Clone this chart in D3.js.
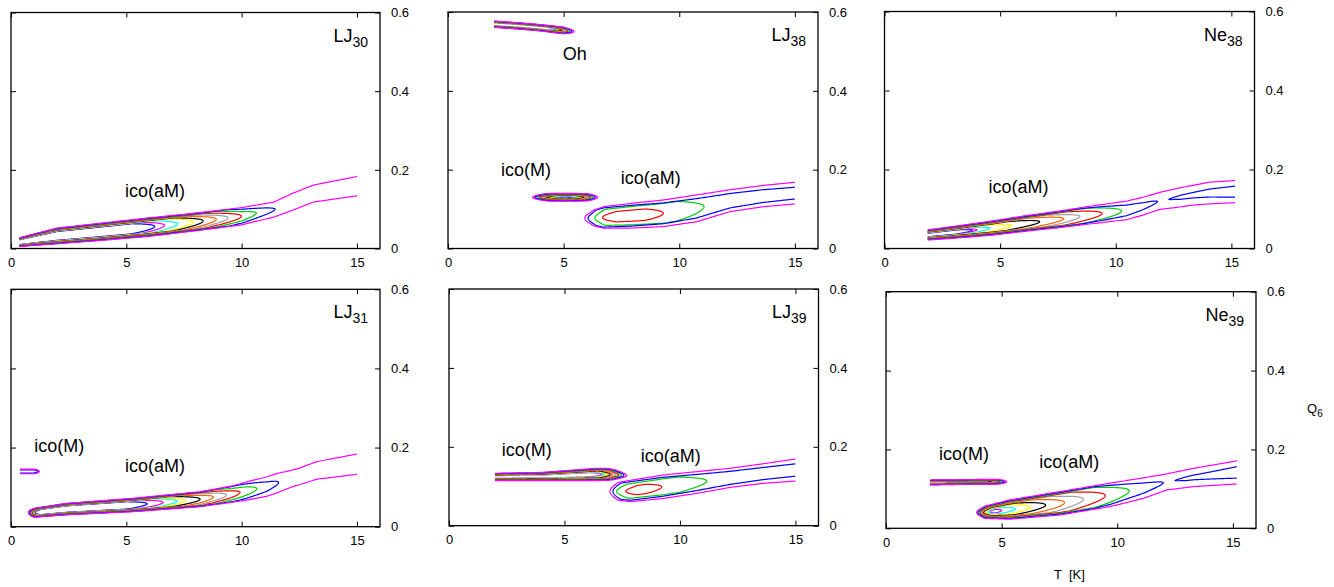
<!DOCTYPE html>
<html><head><meta charset="utf-8">
<script src="https://cdn.jsdelivr.net/npm/d3@7"></script>
<style>body{margin:0;background:#fff}svg{display:block}text{font-family:"Liberation Sans",Arial,Helvetica,sans-serif}</style>
</head><body>
<svg id="c" width="1334" height="587"></svg>
<script>
// ---------- data ----------
const levelColors = ['#ff00ff','#0000ff','#00d000','#ff0000','#a0a0a0','#ff6000','#000000','#ffff00','#00ffff'];
const xTicks = [0, 5, 10, 15];
const yTicks = [0, 0.2, 0.4, 0.6];
const yTickLabels = ['0', '0.2', '0.4', '0.6'];
const panelTitles = [['LJ','30'],['LJ','38'],['Ne','38'],['LJ','31'],['LJ','39'],['Ne','39']];
// level: [colorIndex, closedLeftT|null, closedRightT|null, scaleStart, scaleEnd, roundLeft, roundRight]

// LJ30 ico(aM)
const lj30aM_T   = [0.36, 1.0, 2.0, 4.0, 6.0, 8.0, 10.0, 11.4, 12.2, 13.1, 15.0];
const lj30aM_top = [0.027, 0.037, 0.052, 0.065, 0.078, 0.090, 0.104, 0.118, 0.140, 0.161, 0.183];
const lj30aM_bot = [0.005, 0.008, 0.012, 0.021, 0.031, 0.045, 0.060, 0.080, 0.097, 0.118, 0.134];
const lj30aM_lev = [[0,null,null,1,1,0,0],[1,null,11.45,.95,.95,0,2.0],[2,null,10.64,.9,.9,0,1.8],[3,null,9.99,.85,.85,0,1.6],
  [4,null,9.41,.8,.8,0,1.5],[5,null,8.9,.76,.76,0,1.4],[6,null,8.33,.72,.72,0,1.3],[7,null,7.9,.68,.68,0,1.2],
  [8,null,7.23,.64,.64,0,1.1],[0,null,6.66,.6,.6,0,1.0],[1,null,6.23,.56,.56,0,1.0]];
const lj30Labels = [['ico(aM)', 4.94, 0.132]];

// LJ38 Oh
const lj38Oh_T   = [2.0, 3.0, 4.0, 4.8, 5.6];
const lj38Oh_top = [0.577, 0.573, 0.568, 0.563, 0.558];
const lj38Oh_bot = [0.561, 0.557, 0.552, 0.546, 0.541];
const lj38Oh_lev = [[0,null,5.45,1,1,0,.45],[1,null,5.36,.93,.93,0,.45],[2,null,5.27,.86,.86,0,.45],[3,null,5.18,.8,.8,0,.4],
  [4,null,5.09,.74,.74,0,.4],[5,null,5.0,.68,.68,0,.4],[6,null,4.91,.62,.62,0,.4],[7,null,4.82,.56,.56,0,.4],
  [8,null,4.73,.5,.5,0,.4],[0,null,4.64,.45,.45,0,.4]];
// LJ38 ico(M)
const lj38M_T   = [3.6, 5.0, 6.5];
const lj38M_top = [0.139, 0.140, 0.139];
const lj38M_bot = [0.121, 0.120, 0.121];
const lj38M_lev = [[0,3.66,6.47,1,1,.6,.45],[1,3.76,6.37,.9,.9,.6,.45],[2,3.86,6.27,.82,.82,.6,.45],[3,3.96,6.17,.74,.74,.6,.45],
  [4,4.06,6.07,.66,.66,.6,.45],[5,4.16,5.97,.58,.58,.6,.45],[6,4.26,5.87,.5,.5,.6,.45],[7,4.36,5.77,.42,.42,.6,.45],
  [8,4.46,5.67,.34,.34,.6,.45],[0,4.56,5.57,.27,.27,.5,.4],[1,4.66,5.47,.2,.2,.4,.35]];
// LJ38 ico(aM)
const lj38aM_T   = [5.9, 6.14, 6.72, 8.0, 9.31, 10.75, 12.2, 13.63, 15.0];
const lj38aM_top = [0.094, 0.094, 0.106, 0.115, 0.123, 0.136, 0.149, 0.160, 0.168];
const lj38aM_bot = [0.060, 0.060, 0.0513, 0.052, 0.0555, 0.068, 0.0936, 0.106, 0.113];
const lj38aM_lev = [[0,5.92,null,1,1,.35,0],[1,6.06,null,.92,.54,.35,0],[2,6.35,11.07,.74,.74,.45,1.2],[3,6.68,9.31,.45,.45,.6,.8]];
const lj38Labels = [['Oh', 4.96, 0.479], ['ico(M)', 2.29, 0.183], ['ico(aM)', 7.47, 0.163]];

// Ne38 ico(aM)
const ne38aM_T   = [1.87, 3.0, 4.69, 6.0, 7.58, 9.0, 10.47, 11.2, 11.9, 12.63, 13.35, 14.07, 15.16];
const ne38aM_top = [0.047, 0.056, 0.070, 0.082, 0.095, 0.108, 0.120, 0.130, 0.142, 0.152, 0.160, 0.168, 0.172];
const ne38aM_bot = [0.0215, 0.026, 0.034, 0.043, 0.053, 0.063, 0.073, 0.085, 0.099, 0.104, 0.110, 0.113, 0.116];
const ne38aM_lev = [[0,null,null,1,1,0,0],[1,null,11.8,.92,.92,0,3.5],[1,12.3,null,.15,.5,.5,0],[2,null,10.25,.85,.85,0,1.6],
  [3,null,9.41,.78,.78,0,1.6],[4,null,8.45,.71,.71,0,1.5],[5,null,7.75,.64,.64,0,1.5],[6,null,6.71,.58,.58,0,1.4],
  [7,null,5.49,.52,.52,0,1.2],[8,null,4.55,.46,.46,0,1.0],[0,null,4.0,.4,.4,0,.8],[1,null,3.8,.35,.35,0,.7]];
const ne38Labels = [['ico(aM)', 4.5, 0.14]];

// LJ31 ico(M)
const lj31M_T   = [0.39, 1.3];
const lj31M_top = [0.1456, 0.1456];
const lj31M_bot = [0.1338, 0.1338];
const lj31M_lev = [[0,null,1.23,1,1,0,.2],[1,null,1.17,.7,.7,0,.2]];
// LJ31 ico(aM)
const lj31aM_T   = [0.7, 1.0, 2.4, 5.3, 8.2, 9.6, 10.2, 11.1, 11.5, 12.2, 12.5, 13.25, 15.0];
const lj31aM_top = [0.047, 0.0465, 0.059, 0.0718, 0.0884, 0.103, 0.113, 0.126, 0.134, 0.143, 0.148, 0.1643, 0.1837];
const lj31aM_bot = [0.024, 0.0238, 0.030, 0.0379, 0.0506, 0.062, 0.067, 0.077, 0.085, 0.101, 0.106, 0.120, 0.1324];
const lj31aM_lev = [[0,.75,null,1,1,.25,0],[1,.78,11.6,.95,.95,.25,2.0],[2,.81,10.66,.9,.9,.25,1.8],[3,.84,9.93,.85,.85,.25,1.6],
  [4,.87,9.35,.8,.8,.25,1.5],[5,.9,8.78,.76,.76,.25,1.4],[6,.93,8.2,.72,.72,.25,1.3],[7,.96,7.55,.68,.68,.25,1.2],
  [8,.99,7.2,.64,.64,.25,1.1],[0,1.02,6.6,.6,.6,.25,1.0],[1,1.05,5.9,.56,.56,.25,.9]];
const lj31Labels = [['ico(M)', 1.01, 0.19], ['ico(aM)', 4.94, 0.139]];

// LJ39 ico(M)
const lj39M_T   = [1.99, 4.0, 6.4, 6.9, 7.26, 7.8];
const lj39M_top = [0.1328, 0.135, 0.1455, 0.145, 0.141, 0.136];
const lj39M_bot = [0.1141, 0.1141, 0.1141, 0.115, 0.1176, 0.118];
const lj39M_lev = [[0,null,7.7,1,1,0,.5],[1,null,7.58,.92,.92,0,.5],[2,null,7.46,.85,.85,0,.5],[3,null,7.34,.78,.78,0,.5],
  [4,null,7.22,.71,.71,0,.5],[5,null,7.1,.64,.64,0,.5],[6,null,6.98,.57,.57,0,.5],[7,null,6.86,.5,.5,0,.5],
  [8,null,6.74,.43,.43,0,.5],[0,null,6.62,.36,.36,0,.5]];
// LJ39 ico(aM)
const lj39aM_T   = [6.95, 7.26, 7.84, 9.28, 10.73, 12.17, 13.6, 15.0];
const lj39aM_top = [0.106, 0.109, 0.115, 0.1285, 0.137, 0.1455, 0.157, 0.169];
const lj39aM_bot = [0.068, 0.0651, 0.061, 0.069, 0.082, 0.097, 0.1074, 0.1133];
const lj39aM_lev = [[0,6.97,null,1,1,.35,0],[1,7.1,null,.9,.56,.35,0],[2,7.26,11.16,.68,.68,.45,1.2],[3,7.66,9.21,.42,.42,.5,.7]];
const lj39Labels = [['ico(M)', 2.28, 0.177], ['ico(aM)', 8.3, 0.162]];

// Ne39 ico(M)
const ne39M_T   = [1.9, 3.0, 4.3, 5.3];
const ne39M_top = [0.1225, 0.123, 0.1242, 0.124];
const ne39M_bot = [0.110, 0.111, 0.112, 0.112];
const ne39M_lev = [[0,null,5.22,1,1,0,.35],[1,null,5.12,.9,.9,0,.35],[2,null,5.02,.8,.8,0,.35],[3,null,4.92,.7,.7,0,.35],
  [4,null,4.82,.6,.6,0,.35],[5,null,4.72,.5,.5,0,.35],[6,null,4.62,.4,.4,0,.35]];
// Ne39 ico(aM)
const ne39aM_T   = [3.9, 4.2, 5.35, 7.52, 9.69, 11.14, 12.14, 13.29, 15.17];
const ne39aM_top = [0.052, 0.055, 0.072, 0.093, 0.1145, 0.128, 0.138, 0.152, 0.171];
const ne39aM_bot = [0.028, 0.0254, 0.023, 0.0338, 0.055, 0.0761, 0.0972, 0.1057, 0.1125];
const ne39aM_lev = [[0,3.92,null,1,1,.35,0],[1,3.97,11.99,.93,.93,.35,3.0],[1,12.5,null,.15,.5,.5,0],[2,4.02,10.52,.86,.86,.35,1.5],
  [3,4.07,9.48,.79,.79,.35,1.5],[4,4.12,8.54,.72,.72,.35,1.5],[5,4.17,7.72,.65,.65,.35,1.4],[6,4.22,6.9,.58,.58,.35,1.3],
  [7,4.3,6.25,.5,.5,.35,1.1],[8,4.4,5.6,.42,.42,.35,1.0],[0,4.5,5.0,.34,.34,.3,.5]];
const ne39Labels = [['ico(M)', 2.29, 0.173], ['ico(aM)', 6.63, 0.152]];

// ---------- layout ----------
const panels = [
  {title: panelTitles[0], x:[11,380],   y:[12.5,248.5], labels: lj30Labels,
   blobs: [[lj30aM_T, lj30aM_top, lj30aM_bot, lj30aM_lev]]},
  {title: panelTitles[1], x:[448,818],  y:[12,248.5], labels: lj38Labels,
   blobs: [[lj38Oh_T, lj38Oh_top, lj38Oh_bot, lj38Oh_lev],[lj38M_T, lj38M_top, lj38M_bot, lj38M_lev],[lj38aM_T, lj38aM_top, lj38aM_bot, lj38aM_lev]]},
  {title: panelTitles[2], x:[884.5,1254.5], y:[11.5,248.5], labels: ne38Labels,
   blobs: [[ne38aM_T, ne38aM_top, ne38aM_bot, ne38aM_lev]]},
  {title: panelTitles[3], x:[11,380],   y:[289.3,526.7], labels: lj31Labels,
   blobs: [[lj31M_T, lj31M_top, lj31M_bot, lj31M_lev],[lj31aM_T, lj31aM_top, lj31aM_bot, lj31aM_lev]]},
  {title: panelTitles[4], x:[449,818.5], y:[289,525.7], labels: lj39Labels,
   blobs: [[lj39M_T, lj39M_top, lj39M_bot, lj39M_lev],[lj39aM_T, lj39aM_top, lj39aM_bot, lj39aM_lev]]},
  {title: panelTitles[5], x:[886,1256], y:[291.7,528.3], labels: ne39Labels,
   blobs: [[ne39M_T, ne39M_top, ne39M_bot, ne39M_lev],[ne39aM_T, ne39aM_top, ne39aM_bot, ne39aM_lev]]}
];

const svg = d3.select('#c');

function levelLines(T, top, bot, lv) {
  const [ci, a, b, s0, s1, ra, rb] = lv;
  const ta = a ?? T[0], tb = b ?? T[T.length-1];
  const topS = d3.scaleLinear().domain(T).range(top).clamp(true);
  const botS = d3.scaleLinear().domain(T).range(bot).clamp(true);
  const N = 240, up = [], lo = [];
  for (let i = 0; i <= N; i++) {
    const u = i / N;
    const t = ta + (tb - ta) * (0.5 - 0.5 * Math.cos(Math.PI * u));
    const c = (topS(t) + botS(t)) / 2, w = (topS(t) - botS(t)) / 2;
    let f = s0 + (s1 - s0) * (t - ta) / (tb - ta);
    if (a != null) f *= Math.sqrt(Math.max(0, Math.min(1, (t - a) / ra)));
    if (b != null) f *= Math.sqrt(Math.max(0, Math.min(1, (b - t) / rb)));
    up.push([t, c + w * f]); lo.push([t, c - w * f]);
  }
  if (a == null && b == null) return [up, lo];
  if (a != null && b == null) return [up.slice().reverse().concat(lo.slice(1))];
  return [up.concat(lo.slice().reverse().slice(1))];
}

panels.forEach(p => {
  const xs = d3.scaleLinear().domain([0, 16]).range(p.x);
  const ys = d3.scaleLinear().domain([0, 0.6]).range([p.y[1], p.y[0]]);
  const g = svg.append('g');
  const line = d3.line().x(d => xs(d[0])).y(d => ys(d[1]));

  // contours (inner levels first so the outer envelope stays visible)
  const cg = g.append('g').attr('fill', 'none').attr('stroke-width', 1.2).attr('stroke-linejoin', 'round');
  p.blobs.forEach(([T, top, bot, levs]) => {
    levs.slice().reverse().forEach(lv => {
      levelLines(T, top, bot, lv).forEach(pts => {
        cg.append('path').attr('d', line(pts)).attr('stroke', levelColors[lv[0]]);
      });
    });
  });

  // axes (ticks inward, mirrored)
  const tickStyle = sel => { sel.select('.domain').remove(); sel.selectAll('line').attr('stroke', '#000').attr('stroke-width', 1); };
  const fontStyle = s => s.selectAll('text').attr('font-size', 13).attr('fill', '#000').attr('font-family', '"Liberation Sans",Arial,sans-serif');
  g.append('g').attr('transform', `translate(0,${p.y[1]})`)
    .call(d3.axisBottom(xs).tickValues(xTicks).tickSize(-5).tickPadding(9).tickFormat(d3.format('d')))
    .call(tickStyle).call(fontStyle);
  g.append('g').attr('transform', `translate(0,${p.y[0]})`)
    .call(d3.axisTop(xs).tickValues(xTicks).tickSize(-5).tickFormat(''))
    .call(tickStyle);
  g.append('g').attr('transform', `translate(${p.x[1]},0)`)
    .call(d3.axisRight(ys).tickValues(yTicks).tickSize(-5).tickPadding(11).tickFormat((d, i) => yTickLabels[i]))
    .call(tickStyle).call(fontStyle);
  g.append('g').attr('transform', `translate(${p.x[0]},0)`)
    .call(d3.axisLeft(ys).tickValues(yTicks).tickSize(-5).tickFormat(''))
    .call(tickStyle);

  // frame
  g.append('rect').attr('x', p.x[0]).attr('y', p.y[0]).attr('width', p.x[1] - p.x[0]).attr('height', p.y[1] - p.y[0])
    .attr('fill', 'none').attr('stroke', '#000').attr('stroke-width', 1.3);

  // title
  const t = g.append('text').attr('x', p.x[1] - 12).attr('y', p.y[0] + 29).attr('text-anchor', 'end').attr('font-size', 18);
  t.append('tspan').text(p.title[0]);
  t.append('tspan').attr('font-size', 14).attr('dy', 5).text(p.title[1]);

  // annotations
  p.labels.forEach(([txt, tx, ty]) => {
    g.append('text').attr('x', xs(tx)).attr('y', ys(ty)).attr('font-size', 18).text(txt);
  });
});

// axis titles
const q = svg.append('text').attr('x', 1307).attr('y', 413).attr('font-size', 13);
q.append('tspan').text('Q');
q.append('tspan').attr('font-size', 10).attr('dy', 4).text('6');
svg.append('text').attr('x', 1054).attr('y', 579).attr('font-size', 13).attr('xml:space', 'preserve').text('T  [K]');
</script>
</body></html>
